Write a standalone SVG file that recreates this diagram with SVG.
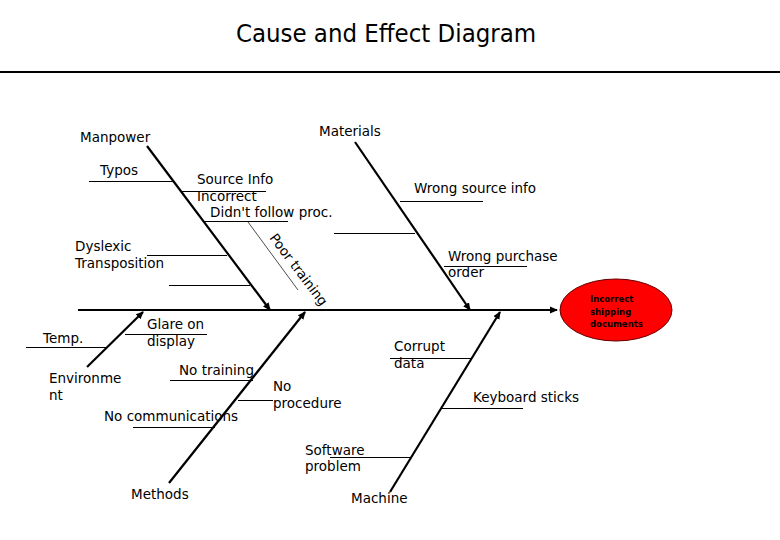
<svg xmlns="http://www.w3.org/2000/svg" width="780" height="540" viewBox="0 0 780 540">
<style>
text{font-family:"DejaVu Sans",sans-serif;fill:#000}
.lb{font-size:13.5px}
.t{font-family:"DejaVu Sans Condensed","DejaVu Sans",sans-serif;font-size:25.5px}
.sm{font-size:8.5px;font-weight:bold}
.bone{stroke:#000;stroke-width:2.2;fill:none}
.sub{stroke:#000;stroke-width:1;fill:none;shape-rendering:crispEdges}
.thin{stroke:#000;stroke-width:0.7;fill:none}
</style>
<defs>
<marker id="ah" markerWidth="8" markerHeight="8" refX="7" refY="4" orient="auto" markerUnits="userSpaceOnUse">
<path d="M0,0.5 L8,4 L0,7.5 Z" fill="#000"/>
</marker>
</defs>
<rect width="780" height="540" fill="#fff"/>
<g id="title">
<text class="t" x="386" y="42" text-anchor="middle">Cause and Effect Diagram</text>
<line x1="0" y1="72" x2="780" y2="72" stroke="#000" stroke-width="1.2" shape-rendering="crispEdges"/>
</g>
<g id="connectors">
<line class="bone" x1="78" y1="310" x2="557" y2="310" marker-end="url(#ah)"/>
<line class="bone" x1="147" y1="146" x2="270" y2="310" marker-end="url(#ah)"/>
<line class="bone" x1="355" y1="142" x2="470" y2="310" marker-end="url(#ah)"/>
<line class="bone" x1="87" y1="367" x2="143" y2="312" marker-end="url(#ah)"/>
<line class="bone" x1="169" y1="483" x2="305" y2="312" marker-end="url(#ah)"/>
<line class="bone" x1="390" y1="492" x2="500" y2="312" marker-end="url(#ah)"/>
<line class="sub" x1="89" y1="181" x2="173" y2="181"/>
<line class="sub" x1="180" y1="191" x2="266" y2="191"/>
<line class="sub" x1="203" y1="221" x2="288" y2="221"/>
<line class="thin" x1="248" y1="222" x2="298" y2="290"/>
<line class="sub" x1="147" y1="255" x2="227" y2="255"/>
<line class="sub" x1="169" y1="285" x2="250" y2="285"/>
<line class="sub" x1="400" y1="201" x2="483" y2="201"/>
<line class="sub" x1="334" y1="233" x2="415" y2="233"/>
<line class="sub" x1="444" y1="266" x2="527" y2="266"/>
<line class="sub" x1="26" y1="347" x2="106" y2="347"/>
<line class="sub" x1="125" y1="334" x2="207" y2="334"/>
<line class="sub" x1="170" y1="380" x2="253" y2="380"/>
<line class="sub" x1="238" y1="400" x2="273" y2="400"/>
<line class="sub" x1="133" y1="427" x2="215" y2="427"/>
<line class="sub" x1="390" y1="358" x2="471" y2="358"/>
<line class="sub" x1="442" y1="408" x2="523" y2="408"/>
<line class="sub" x1="330" y1="457" x2="410" y2="457"/>
</g>
<g id="effect">
<ellipse cx="616" cy="310" rx="56" ry="31" fill="#f00" stroke="#600" stroke-width="1"/>
<text class="sm" x="590" y="302">Incorrect</text>
<text class="sm" x="590" y="315">shipping</text>
<text class="sm" x="590" y="327">documents</text>
</g>
<g id="manpower">
<text class="lb" x="80" y="142">Manpower</text>
<text class="lb" x="100" y="175">Typos</text>
<text class="lb" x="197" y="184">Source Info</text>
<text class="lb" x="197" y="201">Incorrect</text>
<text class="lb" x="210" y="217">Didn't follow proc.</text>
<text class="lb" transform="translate(269,238) rotate(53)">Poor training</text>
<text class="lb" x="75" y="251">Dyslexic</text>
<text class="lb" x="75" y="268">Transposition</text>
</g>
<g id="materials">
<text class="lb" x="319" y="136">Materials</text>
<text class="lb" x="414" y="193">Wrong source info</text>
<text class="lb" x="448" y="261">Wrong purchase</text>
<text class="lb" x="448" y="277">order</text>
</g>
<g id="environment">
<text class="lb" x="49" y="383">Environme</text>
<text class="lb" x="49" y="400">nt</text>
<text class="lb" x="43" y="343">Temp.</text>
<text class="lb" x="147" y="329">Glare on</text>
<text class="lb" x="147" y="346">display</text>
</g>
<g id="methods">
<text class="lb" x="131" y="499">Methods</text>
<text class="lb" x="179" y="375">No training</text>
<text class="lb" x="273" y="391">No</text>
<text class="lb" x="273" y="408">procedure</text>
<text class="lb" x="104" y="421">No communications</text>
</g>
<g id="machine">
<text class="lb" x="351" y="503">Machine</text>
<text class="lb" x="394" y="351">Corrupt</text>
<text class="lb" x="394" y="368">data</text>
<text class="lb" x="473" y="402">Keyboard sticks</text>
<text class="lb" x="305" y="455">Software</text>
<text class="lb" x="305" y="471">problem</text>
</g>
</svg>
